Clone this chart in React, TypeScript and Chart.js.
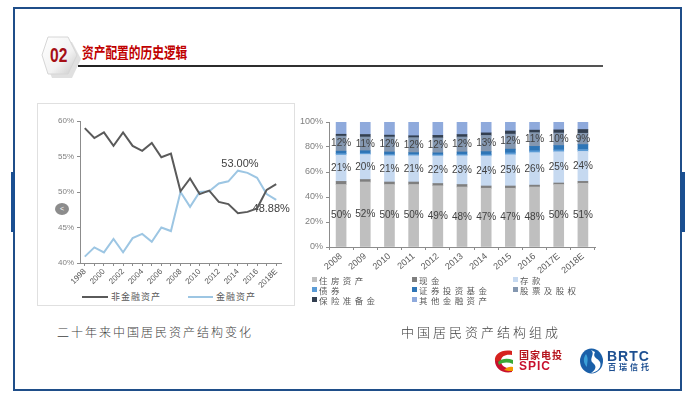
import React, { useEffect, useRef } from 'react';
import { Chart, registerables } from 'chart.js';

Chart.register(...registerables);

// ---------- data: line chart ----------
const lineYears = ['1998', '1999', '2000', '2001', '2002', '2003', '2004', '2005', '2006', '2007', '2008', '2009', '2010', '2011', '2012', '2013', '2014', '2015', '2016', '2017', '2018E'];
const nonFinancialAssets = [59.0, 57.6, 58.4, 56.5, 58.4, 56.5, 55.8, 56.9, 54.9, 55.4, 50.1, 51.9, 49.7, 50.2, 48.6, 48.3, 47.0, 47.2, 47.7, 50.3, 51.1];
const financialAssets = [40.9, 42.2, 41.5, 43.4, 41.5, 43.5, 44.1, 43.0, 45.0, 44.5, 50.0, 47.9, 50.0, 50.1, 51.2, 51.5, 53.0, 52.7, 52.0, 49.7, 48.88];
const lineSeriesNames = ['非金融资产', '金融资产'];
const lineLabelPoints = [16, 20]; // indices of financialAssets that carry a value label

// ---------- data: stacked bar chart ----------
const barYears = ['2008', '2009', '2010', '2011', '2012', '2013', '2014', '2015', '2016', '2017E', '2018E'];
const housing = [50, 52, 50, 50, 49, 48, 47, 47, 48, 50, 51];
const cash = [2.5, 2, 2, 2, 1.8, 2, 1.8, 1.8, 1.5, 1.2, 1.5];
const deposits = [21, 20, 21, 21, 22, 23, 24, 25, 26, 25, 24];
const bonds = [1.2, 1, 1, 1, 1, 1, 1, 1.5, 1.5, 1.5, 1.5];
const funds = [2, 2, 2, 1.5, 1.5, 2, 2.5, 3, 3.5, 3.5, 4];
const equities = [12, 11, 12, 12, 12, 12, 13, 12, 11, 10, 9];
const insurance = [1.5, 2, 1.5, 1.5, 2, 2, 2, 2.5, 2, 2.5, 3];
const otherFinancial = [9.8, 10, 10.5, 11, 10.7, 10, 8.7, 7.2, 6.5, 6.3, 6];
const barSeriesNames = ['住房资产', '现金', '存款', '债券', '证券投资基金', '股票及股权', '保险准备金', '其他金融资产'];
const barSeriesColors = ['#bfbfbf', '#7f7f7f', '#c6d9f0', '#5b9bd5', '#2e75b6', '#8497b0', '#333f50', '#8faadc'];
const labeledBarSeries = [0, 2, 5];

const FONT = '"Liberation Sans", Arial, sans-serif';
const CJK = '"Noto Sans CJK SC", sans-serif';

function LineChart() {
  const ref = useRef<HTMLCanvasElement>(null);
  useEffect(() => {
    const labelPlugin = {
      id: 'pointLabels',
      beforeDatasetsDraw(chart: any) {
        const ctx = chart.ctx;
        const meta = chart.getDatasetMeta(1);
        ctx.save();
        ctx.font = `11px ${FONT}`;
        ctx.fillStyle = '#404040';
        ctx.textAlign = 'center';
        lineLabelPoints.forEach((idx, k) => {
          const el = meta.data[idx];
          const txt = financialAssets[idx].toFixed(2) + '%';
          if (k === 0) {
            ctx.textBaseline = 'bottom';
            ctx.fillText(txt, el.x + 2, el.y - 1);
          } else {
            ctx.textBaseline = 'middle';
            ctx.fillText(txt, el.x - 5, el.y + 9);
          }
        });
        ctx.restore();
      },
    };
    const chart = new Chart(ref.current!, {
      type: 'line',
      data: {
        labels: lineYears,
        datasets: [
          { label: lineSeriesNames[0], data: nonFinancialAssets, borderColor: '#5a5a5a', borderWidth: 2, pointRadius: 0, tension: 0 },
          { label: lineSeriesNames[1], data: financialAssets, borderColor: '#9dc6e3', borderWidth: 2, pointRadius: 0, tension: 0 },
        ],
      },
      options: {
        animation: false,
        responsive: false,
        layout: { padding: { left: 0, right: 11, top: 11, bottom: 0 } },
        plugins: { legend: { display: false }, tooltip: { enabled: false } },
        scales: {
          x: {
            offset: true,
            grid: { display: true, drawOnChartArea: false, drawTicks: true, tickLength: 3, color: '#8c8c8c', offset: false },
            border: { display: true, color: '#8c8c8c', width: 1 },
            ticks: {
              autoSkip: false,
              maxRotation: 45,
              minRotation: 45,
              padding: 1,
              color: '#595959',
              font: { family: FONT, size: 8 },
              callback: (v: any, i: number) => (i % 2 === 0 ? lineYears[i] : ''),
            },
            afterFit: (s: any) => { s.height = 27; },
          },
          y: {
            min: 40,
            max: 60,
            grid: { display: true, drawOnChartArea: false, drawTicks: true, tickLength: 3, color: '#8c8c8c' },
            border: { display: true, color: '#8c8c8c', width: 1 },
            ticks: {
              stepSize: 5,
              padding: 3,
              color: '#7f7f7f',
              font: { family: FONT, size: 8 },
              callback: (v: any) => v + '%',
            },
            afterFit: (s: any) => { s.width = 40; },
          },
        },
      },
      plugins: [labelPlugin],
    } as any);
    return () => chart.destroy();
  }, []);
  return <canvas ref={ref} width={252} height={180} style={{ position: 'absolute', left: 40, top: 110, width: 252, height: 180 }} />;
}

function BarChart() {
  const ref = useRef<HTMLCanvasElement>(null);
  useEffect(() => {
    const series = [housing, cash, deposits, bonds, funds, equities, insurance, otherFinancial];
    const labelPlugin = {
      id: 'barLabels',
      afterDatasetsDraw(chart: any) {
        const ctx = chart.ctx;
        ctx.save();
        ctx.font = `10px ${FONT}`;
        ctx.fillStyle = '#404040';
        ctx.textAlign = 'center';
        ctx.textBaseline = 'middle';
        labeledBarSeries.forEach((di) => {
          const meta = chart.getDatasetMeta(di);
          meta.data.forEach((el: any, i: number) => {
            const p = el.getCenterPoint();
            ctx.fillText(series[di][i] + '%', p.x, p.y);
          });
        });
        ctx.restore();
      },
    };
    const chart = new Chart(ref.current!, {
      type: 'bar',
      data: {
        labels: barYears,
        datasets: series.map((d, i) => ({
          label: barSeriesNames[i],
          data: d,
          backgroundColor: barSeriesColors[i],
          borderWidth: 0,
          barThickness: 10,
        })),
      },
      options: {
        animation: false,
        responsive: false,
        layout: { padding: { left: 0, right: 7, top: 10, bottom: 0 } },
        plugins: { legend: { display: false }, tooltip: { enabled: false } },
        scales: {
          x: {
            stacked: true,
            grid: { display: true, drawOnChartArea: false, drawTicks: true, tickLength: 3, color: '#8c8c8c' },
            border: { display: true, color: '#8c8c8c', width: 1 },
            ticks: {
              autoSkip: false,
              maxRotation: 40,
              minRotation: 40,
              padding: 1,
              color: '#595959',
              font: { family: FONT, size: 9 },
            },
            afterFit: (s: any) => { s.height = 30; },
          },
          y: {
            stacked: true,
            min: 0,
            max: 100,
            grid: { display: true, drawOnChartArea: false, drawTicks: true, tickLength: 3, color: '#8c8c8c' },
            border: { display: true, color: '#8c8c8c', width: 1 },
            ticks: {
              stepSize: 20,
              padding: 3,
              color: '#7f7f7f',
              font: { family: FONT, size: 9 },
              callback: (v: any) => v + '%',
            },
            afterFit: (s: any) => { s.width = 37; },
          },
        },
      },
      plugins: [labelPlugin],
    } as any);
    return () => chart.destroy();
  }, []);
  return <canvas ref={ref} width={310} height={165} style={{ position: 'absolute', left: 292, top: 112, width: 310, height: 165 }} />;
}

export default function App() {
  const abs = (o: any): React.CSSProperties => ({ position: 'absolute', ...o });
  const legendCols = [312, 412, 513];
  const legendRows = [280, 290, 300];
  return (
    <div style={{ position: 'fixed', left: 0, top: 0, width: 689, height: 399, background: '#fff', overflow: 'hidden', fontFamily: CJK }}>
      {/* frame */}
      <div style={abs({ left: 13, top: 7, width: 669, height: 384, border: '2px solid #1f4e89', boxSizing: 'border-box' })} />
      <div style={abs({ left: 11, top: 172, width: 4, height: 60, background: '#1a4f91' })} />
      <div style={abs({ left: 681, top: 172, width: 4, height: 60, background: '#1a4f91' })} />

      {/* title badge */}
      <svg style={abs({ left: 36, top: 32, width: 50, height: 52 })} width={50} height={52}>
        <defs>
          <linearGradient id="hx" x1="0" y1="0" x2="1" y2="1">
            <stop offset="0" stopColor="#ffffff" />
            <stop offset="0.6" stopColor="#f2f2f2" />
            <stop offset="1" stopColor="#c8c8c8" />
          </linearGradient>
        </defs>
        <polygon points="14,7 34,7 43,24 34,43 14,43 6,24" fill="#000" opacity="0.12" transform="translate(2,3)" />
        <polygon points="12,5 32,5 41,23 32,42 12,42 6,23" fill="url(#hx)" stroke="#d6d6d6" strokeWidth="1" />
      </svg>
      <div style={abs({ left: 50, top: 44, fontFamily: FONT, fontWeight: 700, fontSize: 20, color: '#a50f15', transform: 'scaleX(0.78)', transformOrigin: 'left top', lineHeight: '22px' })}>02</div>
      <div style={abs({ left: 82, top: 43, fontWeight: 700, fontSize: 15, color: '#c00000', transform: 'scaleX(0.78)', transformOrigin: 'left top', lineHeight: '18px', whiteSpace: 'nowrap' })}>资产配置的历史逻辑</div>
      <div style={abs({ left: 78, top: 65, width: 525, height: 2, background: 'linear-gradient(to right, #222, #3a3a3a 70%, #555)' })} />

      {/* left panel */}
      <div style={abs({ left: 37, top: 103, width: 258, height: 203, border: '1px solid #e0e0e0', boxSizing: 'border-box' })} />
      <LineChart />
      <div style={abs({ left: 55, top: 203, width: 14, height: 12, borderRadius: '50%', background: '#8c8c8c', color: '#fff', fontSize: 7, lineHeight: '12px', textAlign: 'center', fontFamily: FONT })}>&lt;</div>
      <div style={abs({ left: 82, top: 296, width: 26, height: 2, background: '#5a5a5a' })} />
      <div style={abs({ left: 111, top: 290, fontSize: 9, letterSpacing: 1, color: '#595959', lineHeight: '13px', whiteSpace: 'nowrap' })}>{lineSeriesNames[0]}</div>
      <div style={abs({ left: 188, top: 296, width: 25, height: 2, background: '#9dc6e3' })} />
      <div style={abs({ left: 216, top: 290, fontSize: 9, letterSpacing: 1, color: '#595959', lineHeight: '13px', whiteSpace: 'nowrap' })}>{lineSeriesNames[1]}</div>

      {/* right panel */}
      <BarChart />
      {barSeriesNames.map((n, i) => {
        const c = legendCols[i % 3];
        const r = legendRows[Math.floor(i / 3)];
        return (
          <React.Fragment key={n}>
            <div style={abs({ left: c, top: r - 3, width: 5, height: 5, background: barSeriesColors[i] })} />
            <div style={abs({ left: c + 7, top: r - 5, fontSize: 8.5, letterSpacing: 3.4, color: '#595959', lineHeight: '10px', whiteSpace: 'nowrap' })}>{n}</div>
          </React.Fragment>
        );
      })}

      {/* captions */}
      <div style={abs({ left: 57, top: 324, fontSize: 12, letterSpacing: 2, color: '#404040', lineHeight: '16px', whiteSpace: 'nowrap', fontWeight: 300 })}>二十年来中国居民资产结构变化</div>
      <div style={abs({ left: 401, top: 323, fontSize: 13, letterSpacing: 3, color: '#404040', lineHeight: '18px', whiteSpace: 'nowrap', fontWeight: 300 })}>中国居民资产结构组成</div>

      {/* logos */}
      <svg style={abs({ left: 492, top: 348, width: 24, height: 27 })} width={24} height={27}>
        <path d="M20,3 C10,1 2,6 3,13 L9,13 C9,8 14,6 20,7 Z" fill="#d6221e" />
        <path d="M3,13 C3,20 10,26 20,24 L20,20 C14,21 9,18 9,13 Z" fill="#c8102e" />
        <path d="M6,14 C10,10 16,10 21,12 L21,16 C16,14 11,14 7,17 Z" fill="#3aa935" />
        <path d="M12,22 C15,19 18,18 21,19 L21,23 C18,23 15,23 12,22 Z" fill="#f39800" />
      </svg>
      <div style={abs({ left: 519, top: 349, fontSize: 10, fontWeight: 700, letterSpacing: 1, color: '#b5121b', lineHeight: '12px', whiteSpace: 'nowrap' })}>国家电投</div>
      <div style={abs({ left: 519, top: 360, fontSize: 12, fontWeight: 700, letterSpacing: 1, color: '#c8102e', lineHeight: '12px', fontFamily: FONT })}>SPIC</div>
      <svg style={abs({ left: 579, top: 348, width: 26, height: 26 })} width={26} height={26}>
        <ellipse cx="12.5" cy="13" rx="11.5" ry="12.5" fill="#1a5fa8" />
        <path d="M12,2 C17,6 9,11 14,15 C18,18 17,22 12,25 C19,24 23,19 21,14 C19,10 13,10 16,4 Z" fill="#ffffff" />
        <path d="M7,6 C4,10 4,15 8,19 C8,14 10,11 7,6 Z" fill="#3aa0d8" />
      </svg>
      <div style={abs({ left: 607, top: 349, fontSize: 14, fontWeight: 700, letterSpacing: 1, color: '#1d4f91', lineHeight: '14px', fontFamily: FONT })}>BRTC</div>
      <div style={abs({ left: 608, top: 362, fontSize: 8, fontWeight: 700, letterSpacing: 3, color: '#1d4f91', lineHeight: '10px', whiteSpace: 'nowrap' })}>百瑞信托</div>
    </div>
  );
}
